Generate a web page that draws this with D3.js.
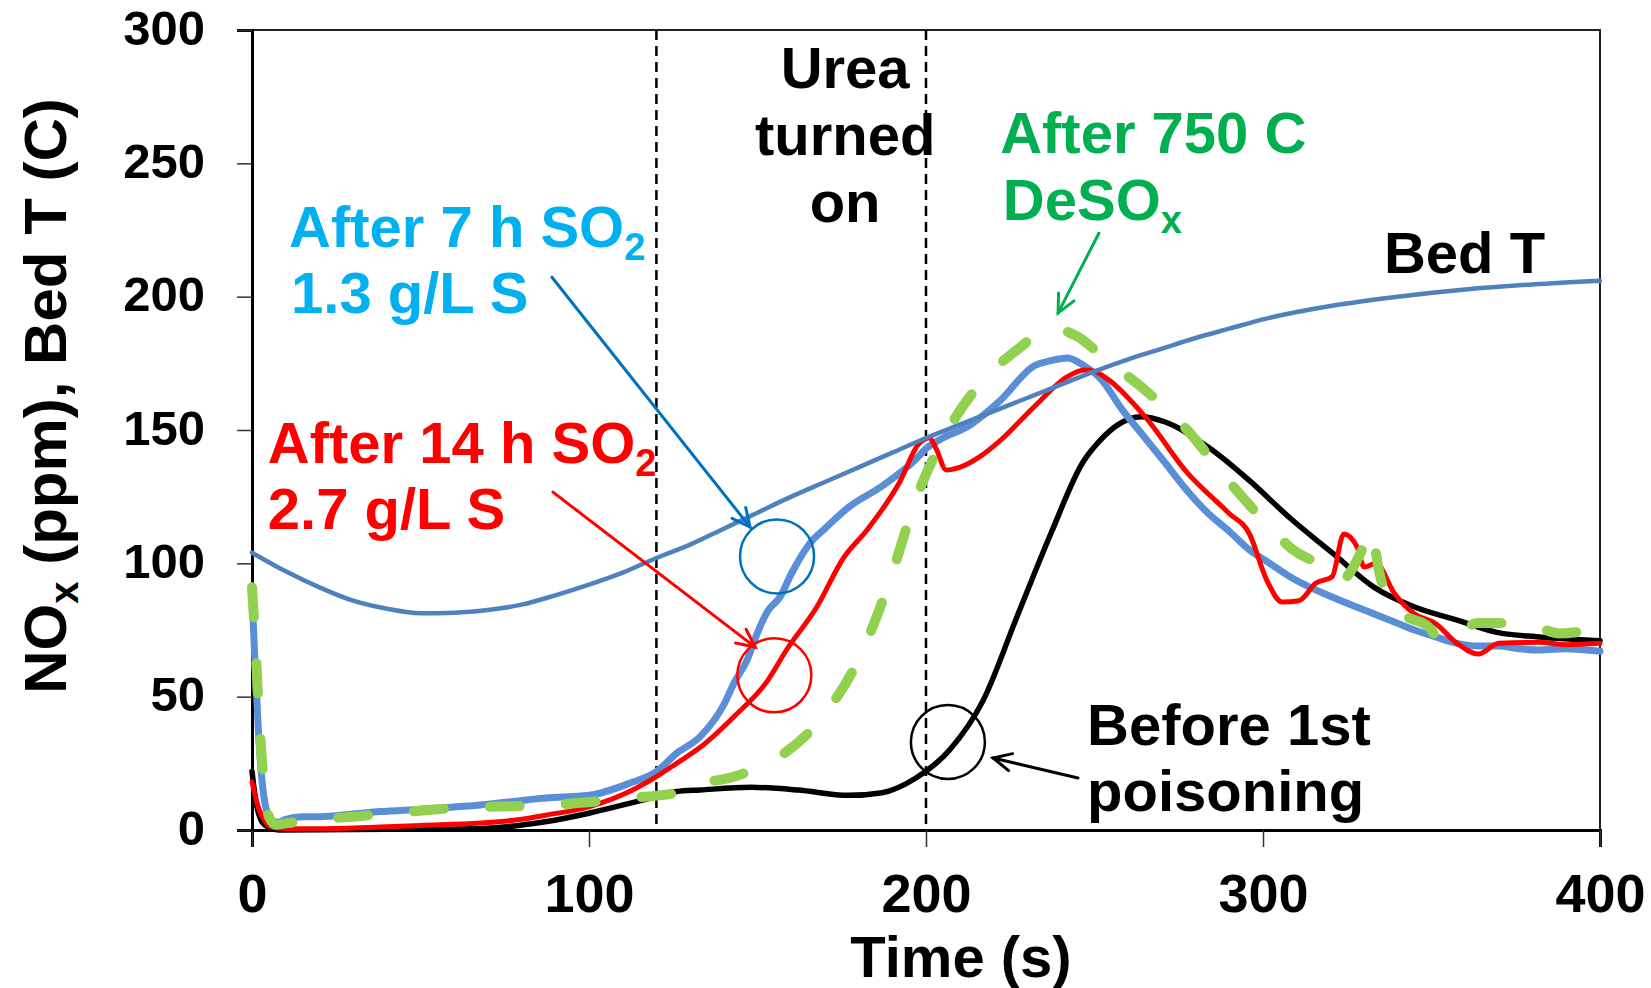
<!DOCTYPE html>
<html lang="en">
<head>
  <meta charset="UTF-8">
  <title>NOx and Bed T vs time</title>
  <style>
    body { margin: 0; background: #fff; }
    svg { display: block; }
    text { font-family: "Liberation Sans", Arial, sans-serif; font-weight: bold; }
  </style>
</head>
<body>
  <script src="https://d3js.org/d3.v7.min.js"></script>
  <script>
    const width = 1651, height = 988;

    // axis ticks
    const xTicks = [0, 100, 200, 300, 400];
    const yTicks = [0, 50, 100, 150, 200, 250, 300];
    const ureaLines = [120, 200];

    // [time (s), value]
    const bedT = [[0,104],[10,97],[20,91],[30,86],[40,83],[50,81.3],[60,81.5],[70,82.5],[80,84.5],[90,88],
      [100,92],[110,96.5],[120,102],[130,107],[140,113],[150,119],[160,125],[170,130.5],[180,136],[190,141.5],
      [200,147],[210,152],[220,157],[230,162],[240,167],[250,172],[260,176.5],[270,180.5],[280,184.5],[290,188],
      [300,191.5],[320,196.5],[340,200],[360,202.7],[380,204.6],[400,206]];

    const before1st = [[0,22],[1,12],[2,6],[3,3],[5,1],[8,0],[30,0.2],[50,0.3],[68,0.6],[87,3.1],[100,6.3],
      [112,10],[120,12.5],[126,14.4],[133,15],[148,16],[162,15],[177,13],[187,14],[197,19.5],[207,30],
      [217,48.7],[227,80],[237,111],[246.6,138],[251.6,146],[257,152],[263.8,155],[271,153],[283.7,143.6],
      [296,131],[308,117],[320.5,104],[333,91],[345,83.6],[357.6,78.7],[369.8,74],[382,72.4],[400,71]];

    const after7h = [[0,88],[1,60],[2,35],[3,18],[4,9],[5,5],[6,3],[8,3],[10,4],[15,5],[20,5],[30,6],[38,6.9],
      [50,7.8],[67.7,9.4],[87.4,12],[100,13],[112,17.5],[120,21.9],[126,28.8],[133,35],[140,47],[143,55],
      [147,64],[150,74],[153,82],[156.7,87.4],[160,96],[165.6,107.6],[170,113],[177,121],[187,129],[197,139],
      [200,143],[205,147],[212,151],[222,161],[232,174],[237,176],[242,177],[247,174],[252,169],[258,158],
      [265,147],[271,137.6],[277,128],[283.7,118.8],[290,112],[296,105],[302,100],[308,95],[314,91],
      [320.5,87.4],[327,84],[333,81],[339,78],[345,75],[351,72.5],[357.6,70],[364,69],[370,69],[376,68],
      [382,67.5],[390,68],[400,67]];

    const after14h = [[0,18],[2,8],[4,3],[6,1],[10,0.5],[20,0.5],[38,1.1],[50,1.7],[67.7,2.6],[80,4],
      [87.4,5.6],[100,8.7],[112,14.4],[120,20],[126,25],[133,31],[143,42.5],[153,56],[158.6,67.5],
      [167.6,83.6],[175.5,102],[182.5,112.5],[192,130],[198,145],[201,147],[203,143],[206,135],[210,136],
      [216,140],[222,146],[232,158.6],[242,170],[247,172.5],[250,172],[254,169],[265,155],[277.5,134],
      [289.7,119],[296,111],[301,94],[305.7,85.5],[310.7,86],[315.7,92.6],[320.5,95],[324,111],[328,106],
      [330,98.6],[333.5,100],[339,88.7],[345,81],[351,77.6],[357.6,70],[363.8,66],[370,70],[382,70.4],
      [390,69.5],[400,70]];

    const after750 = [[0,91],[1,70],[2,45],[3,25],[4,12],[5,5],[7,2],[10,2.5],[20,4],[30,5],[48,7],[63,8.5],
      [80,9],[95.5,10],[112,12],[125.5,13.8],[128,16],[143,20],[154.6,26],[169,42],[180,64],[189,92.5],
      [197,124],[207,151],[217,168.7],[227,180],[237,188],[245,185],[252,178],[258,172],[265,165],
      [277.5,150],[289.7,131],[302,113.6],[308,106],[318,98.6],[323,93.7],[329,104],[331.7,112.5],[335,94],
      [340,82.5],[350,75],[352,71],[358,74],[363.8,77.6],[370,77.6],[382,75.7],[388,73.7],[400,75.7]];

    // circles and arrows, in data units [t, v]
    const circles = [
      { c: [155.8, 102.6], color: "#0070C0" },
      { c: [155, 58], color: "#FF0000" },
      { c: [206.5, 33], color: "#000000" }
    ];
    const arrows = [
      { from: [89, 207.3], to: [147.8, 113.6], color: "#0070C0" },
      { from: [89.3, 126.7], to: [149.3, 68.6], color: "#FF0000" },
      { from: [245.1, 19.5], to: [219.9, 27], color: "#000000" },
      { from: [251.3, 223.8], to: [239.2, 193.9], color: "#00B050" }
    ];

    const svg = d3.select("body").append("svg")
      .attr("width", width)
      .attr("height", height);

    const x = d3.scaleLinear().domain([0, 400]).range([252, 1600]);
    const y = d3.scaleLinear().domain([0, 300]).range([830, 30]);

    // frame (top + right)
    svg.append("path")
      .attr("d", `M${x(0)},${y(300)}H${x(400)}V${y(0)}`)
      .attr("fill", "none").attr("stroke", "#222").attr("stroke-width", 2);

    // y axis
    const yAxis = svg.append("g")
      .attr("transform", `translate(${x(0)},0)`)
      .call(d3.axisLeft(y).tickValues(yTicks).tickSize(15).tickPadding(32));
    yAxis.select(".domain").attr("stroke", "#000").attr("stroke-width", 3);
    yAxis.selectAll(".tick line").attr("stroke", "#333").attr("stroke-width", 1.5);
    yAxis.selectAll(".tick text")
      .attr("font-size", 49).attr("fill", "#000").attr("dy", 14)
      .style("font-family", '"Liberation Sans", Arial, sans-serif').style("font-weight", "bold");

    // x axis
    const xAxis = svg.append("g")
      .attr("transform", `translate(0,${y(0)})`)
      .call(d3.axisBottom(x).tickValues(xTicks).tickSize(17).tickPadding(0));
    xAxis.select(".domain").attr("stroke", "#000").attr("stroke-width", 3);
    xAxis.selectAll(".tick line").attr("stroke", "#333").attr("stroke-width", 1.5);
    xAxis.selectAll(".tick text")
      .attr("font-size", 54).attr("fill", "#000").attr("y", 82).attr("dy", 0)
      .style("font-family", '"Liberation Sans", Arial, sans-serif').style("font-weight", "bold");

    // urea dashed lines
    svg.selectAll(".urea").data(ureaLines).enter().append("line")
      .attr("x1", d => x(d)).attr("x2", d => x(d))
      .attr("y1", y(300)).attr("y2", y(0))
      .attr("stroke", "#000").attr("stroke-width", 2.5).attr("stroke-dasharray", "10,6");

    const line = d3.line().x(d => x(d[0])).y(d => y(d[1])).curve(d3.curveMonotoneX);

    const series = [
      { data: before1st, color: "#000000", w: 5.5 },
      { data: after7h, color: "#5A8ED6", w: 7 },
      { data: after14h, color: "#FF0000", w: 5 },
      { data: bedT, color: "#4F81BD", w: 4.5 },
      { data: after750, color: "#92D050", w: 10, dash: "30,46" }
    ];
    series.forEach(s => {
      svg.append("path")
        .datum(s.data)
        .attr("d", line)
        .attr("fill", "none")
        .attr("stroke", s.color)
        .attr("stroke-width", s.w)
        .attr("stroke-linejoin", "round")
        .attr("stroke-linecap", "round")
        .attr("stroke-dasharray", s.dash || null);
    });

    // circles
    svg.selectAll(".ring").data(circles).enter().append("circle")
      .attr("cx", d => x(d.c[0])).attr("cy", d => y(d.c[1])).attr("r", 37)
      .attr("fill", "none").attr("stroke", d => d.color).attr("stroke-width", 2.5);

    // arrows with open heads
    arrows.forEach(a => {
      const x1 = x(a.from[0]), y1 = y(a.from[1]), x2 = x(a.to[0]), y2 = y(a.to[1]);
      const ang = Math.atan2(y2 - y1, x2 - x1), len = 20, spread = 0.45;
      const g = svg.append("g").attr("stroke", a.color).attr("stroke-width", 3)
        .attr("fill", "none").attr("stroke-linecap", "round");
      g.append("line").attr("x1", x1).attr("y1", y1).attr("x2", x2).attr("y2", y2);
      g.append("path").attr("d",
        `M${x2 - len * Math.cos(ang - spread)},${y2 - len * Math.sin(ang - spread)}` +
        `L${x2},${y2}` +
        `L${x2 - len * Math.cos(ang + spread)},${y2 - len * Math.sin(ang + spread)}`);
    });

    // text labels: main text plus optional subscript
    function label(t, v, color, main, subText, anchor) {
      const tx = svg.append("text")
        .attr("x", x(t)).attr("y", y(v))
        .attr("fill", color).attr("font-size", 58)
        .attr("text-anchor", anchor || "start");
      tx.append("tspan").text(main);
      if (subText) tx.append("tspan").attr("font-size", 38).attr("dy", 13).text(subText);
    }
    label(176, 278.2, "#000", "Urea", null, "middle");
    label(176, 253.1, "#000", "turned", null, "middle");
    label(176, 228, "#000", "on", null, "middle");
    label(11, 218.6, "#00B0F0", "After 7 h SO", "2");
    label(11.6, 193.9, "#00B0F0", "1.3 g/L S");
    label(4.7, 137.6, "#FF0000", "After 14 h SO", "2");
    label(4.7, 112.9, "#FF0000", "2.7 g/L S");
    label(222, 253.9, "#00B050", "After 750 C");
    label(222.8, 228.7, "#00B050", "DeSO", "x");
    label(335.9, 208.9, "#000", "Bed T");
    label(247.8, 31.9, "#000", "Before 1st");
    label(247.8, 7.1, "#000", "poisoning");

    // axis titles
    svg.append("text")
      .attr("x", 961).attr("y", 977)
      .attr("text-anchor", "middle").attr("font-size", 58).attr("fill", "#000")
      .text("Time (s)");

    const yt = svg.append("text")
      .attr("transform", "translate(66,396) rotate(-90)")
      .attr("text-anchor", "middle").attr("font-size", 60).attr("fill", "#000");
    yt.append("tspan").text("NO");
    yt.append("tspan").attr("font-size", 40).attr("dy", 12).text("x");
    yt.append("tspan").attr("dy", -12).text(" (ppm), Bed T (C)");
  </script>
</body>
</html>
